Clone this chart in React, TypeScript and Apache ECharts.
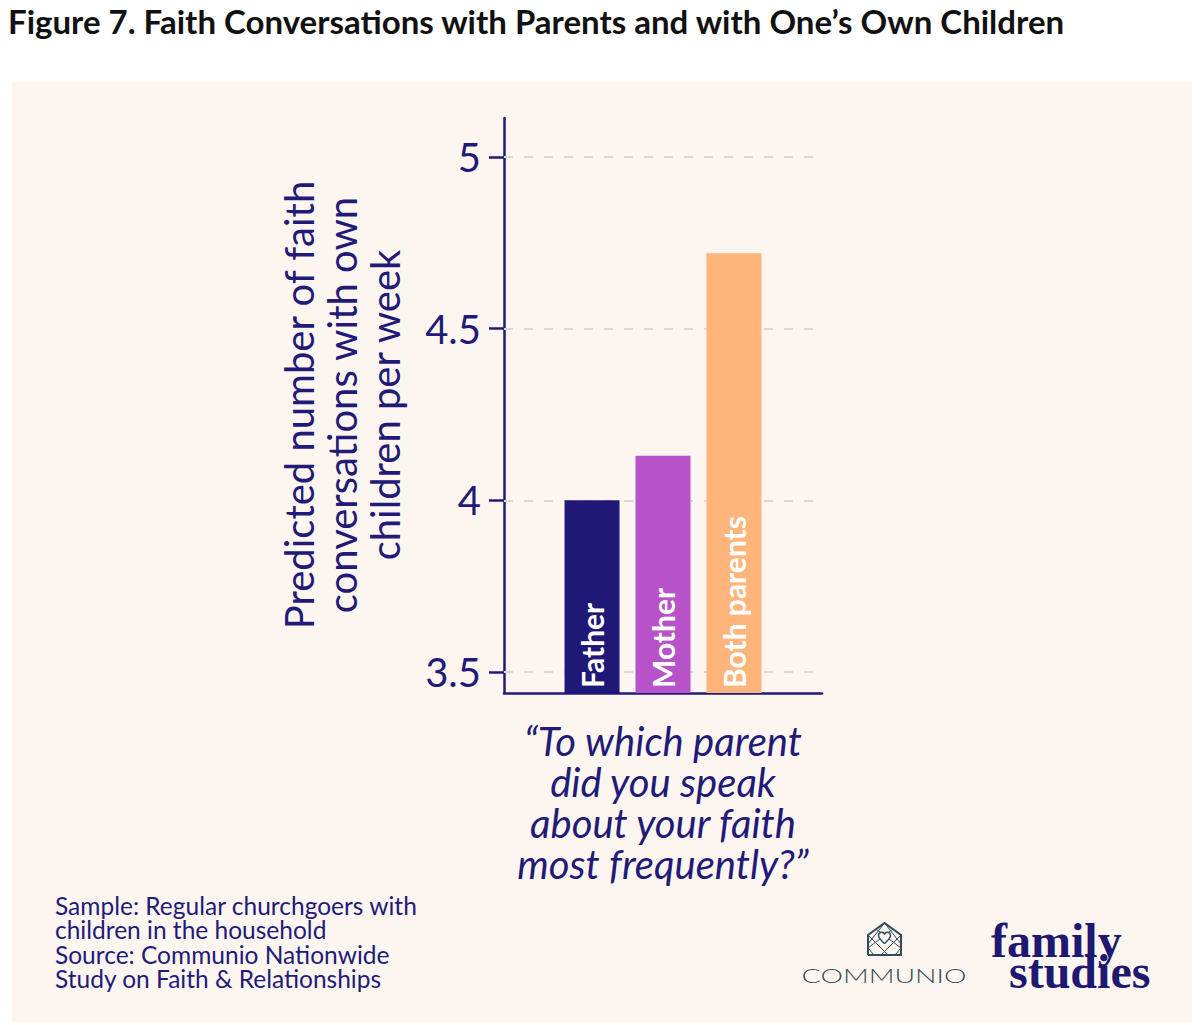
import React, { useEffect, useRef } from "react";
import * as echarts from "echarts";

const titleText = "Figure 7. Faith Conversations with Parents and with One\u2019s Own Children";
const categories = ["Father", "Mother", "Both parents"];
const values = [4.0, 4.13, 4.72];
const barColors = ["#1f1876", "#b752c8", "#fdb57b"];
const yTicks = [3.5, 4, 4.5, 5];
const yAxisTitleLines = ["Predicted number of faith", "conversations with own", "children per week"];
const xAxisTitleLines = ["\u201cTo which parent", "did you speak", "about your faith", "most frequently?\u201d"];
const noteLines = [
  "Sample: Regular churchgoers with",
  "children in the household",
  "Source: Communio Nationwide",
  "Study on Faith & Relationships",
];

const NAVY = "#221a78";
const TEAL = "#2f4c58";

let registered = false;
function registerShapes() {
  if (registered) return;
  registered = true;
  echarts.graphic.registerShape(
    "heartLogo",
    echarts.graphic.extendPath(
      "M5,10 C5,9 0,6 0,3 C0,-0.5 4.5,-0.8 5,2.2 C5.5,-0.8 10,-0.5 10,3 C10,6 5,9 5,10 Z",
      {}
    ) as any
  );
}

export default function App() {
  const ref = useRef<HTMLDivElement>(null);
  useEffect(() => {
    if (!ref.current) return;
    registerShapes();
    const chart = echarts.init(ref.current, null, { renderer: "svg" });
    const series: any[] = categories.map((name, i) => ({
      type: "bar",
      name,
      data: [values[i]],
      barWidth: 55,
      barGap: "29%",
      z: 3,
      itemStyle: { color: barColors[i] },
      label: {
        show: true,
        position: "insideBottom",
        rotate: 90,
        align: "left",
        verticalAlign: "middle",
        distance: 5,
        formatter: name,
        color: "#ffffff",
        fontFamily: "Lato",
        fontWeight: "bold",
        fontSize: 30,
      },
    }));
    series.unshift({
      type: "line",
      data: [],
      z: 1,
      silent: true,
      markLine: {
        silent: true,
        z: 1,
        symbol: ["none", "none"],
        label: { show: false },
        lineStyle: { type: [9, 11], color: "#dbd7d2", width: 2 },
        data: yTicks.map((v) => ({ yAxis: v })),
      },
    });

    const graphics: any[] = [
      {
        type: "rect",
        z: -10,
        shape: { x: 12, y: 82, width: 1180, height: 940 },
        style: { fill: "#fdf6f0" },
        silent: true,
      },
      {
        type: "text",
        x: 8,
        y: 21,
        style: {
          text: titleText,
          font: "bold 33px Lato",
          fill: "#111111",
          textAlign: "left",
          textVerticalAlign: "middle",
        },
      },
      {
        type: "text",
        x: 342,
        y: 405,
        rotation: Math.PI / 2,
        style: {
          text: yAxisTitleLines.join("\n"),
          font: "40px Lato",
          lineHeight: 43,
          fill: NAVY,
          textAlign: "center",
          textVerticalAlign: "middle",
        },
      },
      {
        type: "text",
        x: 663,
        y: 802,
        style: {
          text: xAxisTitleLines.join("\n"),
          font: "italic 40px Lato",
          lineHeight: 41,
          fill: NAVY,
          textAlign: "center",
          textVerticalAlign: "middle",
        },
      },
      {
        type: "text",
        x: 55,
        y: 942,
        style: {
          text: noteLines.join("\n"),
          font: "24.5px Lato",
          lineHeight: 24.5,
          fill: NAVY,
          textAlign: "left",
          textVerticalAlign: "middle",
        },
      },
      // Communio logo
      {
        type: "polyline",
        shape: {
          points: [
            [868, 955],
            [868, 935],
            [884.5, 923],
            [901, 935],
            [901, 955],
            [868, 955],
          ],
        },
        style: { stroke: TEAL, lineWidth: 2, fill: "none" },
      },
      ...[
        [[868, 935], [888, 955]],
        [[901, 935], [881, 955]],
        [[876, 929], [901, 948]],
        [[893, 929], [868, 948]],
        [[868, 944], [884.5, 923]],
        [[901, 944], [884.5, 923]],
        [[874, 955], [868, 948]],
        [[895, 955], [901, 948]],
      ].map((p) => ({
        type: "line",
        shape: { x1: p[0][0], y1: p[0][1], x2: p[1][0], y2: p[1][1] },
        style: { stroke: TEAL, lineWidth: 1 },
      })),
      {
        type: "heartLogo",
        x: 878.5,
        y: 932,
        scaleX: 1.2,
        scaleY: 1.2,
        style: { fill: "#fdf6f0", stroke: TEAL, lineWidth: 1.2 },
      },
      {
        type: "text",
        x: 884,
        y: 975,
        scaleX: 1.42,
        style: {
          text: "COMMUNIO",
          font: "300 20px Lato",
          fill: TEAL,
          textAlign: "center",
          textVerticalAlign: "middle",
        },
      },
      {
        type: "text",
        x: 991,
        y: 940,
        style: {
          text: "family",
          font: "bold 48px 'Liberation Serif'",
          fill: "#1e1870",
          textAlign: "left",
          textVerticalAlign: "middle",
        },
      },
      {
        type: "text",
        x: 1009,
        y: 971,
        style: {
          text: "studies",
          font: "bold 48px 'Liberation Serif'",
          fill: "#1e1870",
          textAlign: "left",
          textVerticalAlign: "middle",
        },
      },
    ];

    chart.setOption({
      animation: false,
      backgroundColor: "#ffffff",
      grid: { left: 504, top: 118, width: 318, height: 575, containLabel: false },
      xAxis: {
        type: "category",
        data: [""],
        axisLine: { show: true, lineStyle: { color: NAVY, width: 2.5 } },
        axisTick: { show: false },
        axisLabel: { show: false },
        splitLine: { show: false },
      },
      yAxis: {
        type: "value",
        min: 3.4388,
        max: 5.1137,
        axisLine: { show: true, lineStyle: { color: NAVY, width: 2.5 } },
        axisTick: {
          show: true,
          customValues: yTicks,
          length: 15,
          lineStyle: { color: NAVY, width: 2.5 },
        },
        axisLabel: {
          show: true,
          customValues: yTicks,
          margin: 23,
          fontSize: 40,
          fontFamily: "Lato",
          color: NAVY,
          formatter: (v: number) => String(v),
        },
        splitLine: { show: false },
      },
      series,
      graphic: graphics,
    });
    return () => chart.dispose();
  }, []);
  return (
    <div
      ref={ref}
      style={{ position: "absolute", left: 0, top: 0, width: 1200, height: 1025 }}
    />
  );
}
